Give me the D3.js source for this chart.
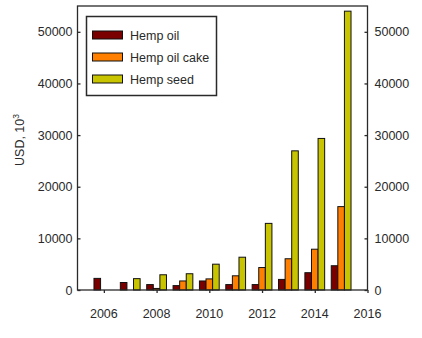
<!DOCTYPE html>
<html><head><meta charset="utf-8">
<script src="https://cdn.jsdelivr.net/npm/d3@7"></script>
<style>body{margin:0;background:#fff}svg{display:block}text{font-family:"Liberation Sans",Arial,sans-serif}</style>
</head><body><svg id="c" width="422" height="338"></svg>
<script>
const years = [2006,2007,2008,2009,2010,2011,2012,2013,2014,2015];
const hempOil = [2250,1450,1050,850,1750,1050,1050,2050,3350,4700];
const hempOilCake = [0,0,300,1750,2150,2750,4350,6050,7900,16150];
const hempSeed = [0,2200,2950,3150,5000,6350,12900,26950,29350,54000];
const seriesNames = ["Hemp oil","Hemp oil cake","Hemp seed"];
const seriesColors = ["#7a0000","#ff8000","#c8c400"];
const xTicks = [2006,2008,2010,2012,2014,2016];
const yTicks = [0,10000,20000,30000,40000,50000];

const svg = d3.select("#c");
const L=77.5, R=367.5, T=6, B=290;
const x = d3.scaleLinear().domain([2005,2016]).range([L,R]);
const y = d3.scaleLinear().domain([0,55000]).range([B,T]);
const bw = (x(2006)-x(2005))*0.25;
const series = [hempOil,hempOilCake,hempSeed];
const ink="#2a2a2a";

series.forEach((s,si)=>{
  svg.append("g").selectAll("rect").data(years.map((yr,i)=>({yr,v:s[i]})).filter(d=>d.v>0))
    .join("rect")
    .attr("x",d=>x(d.yr)+(si-1.5)*bw)
    .attr("y",d=>y(d.v))
    .attr("width",bw)
    .attr("height",d=>B-y(d.v))
    .attr("fill",seriesColors[si])
    .attr("stroke","#111").attr("stroke-width",1);
});

// frame
svg.append("rect").attr("x",L).attr("y",T).attr("width",R-L).attr("height",B-T)
  .attr("fill","none").attr("stroke",ink).attr("stroke-width",1.3);

const fs="12.5px";
const yl = svg.append("g").attr("transform",`translate(${L},0)`).call(d3.axisRight(y).tickValues(yTicks).tickSize(3).tickFormat(""));
const yr = svg.append("g").attr("transform",`translate(${R},0)`).call(d3.axisLeft(y).tickValues(yTicks).tickSize(3).tickFormat(""));
const xa = svg.append("g").attr("transform",`translate(0,${B})`).call(d3.axisBottom(x).tickValues(xTicks).tickSize(3).tickFormat(""));
[yl,yr,xa].forEach(g=>{g.select(".domain").remove();g.selectAll("line").attr("stroke",ink).attr("stroke-width",1.3);});

svg.append("g").selectAll("text").data(yTicks).join("text")
  .attr("x",L-5).attr("y",d=>y(d)+4.5).attr("text-anchor","end")
  .attr("font-size",fs).attr("fill",ink).text(d=>d);
svg.append("g").selectAll("text").data(yTicks).join("text")
  .attr("x",R+7).attr("y",d=>y(d)+4.5).attr("text-anchor","start")
  .attr("font-size",fs).attr("fill",ink).text(d=>d);
svg.append("g").selectAll("text").data(xTicks).join("text")
  .attr("x",d=>x(d)).attr("y",318).attr("text-anchor","middle")
  .attr("font-size",fs).attr("fill",ink).text(d=>d);

const lab = svg.append("text").attr("transform","translate(24,140) rotate(-90)")
  .attr("text-anchor","middle").attr("font-size","12.5px").attr("fill",ink);
lab.append("tspan").text("USD, 10");
lab.append("tspan").attr("dy",-5).attr("font-size","8.5px").text("3");

// legend
const lg = svg.append("g");
lg.append("rect").attr("x",86.5).attr("y",16.5).attr("width",130).attr("height",79)
  .attr("fill","#fff").attr("stroke",ink).attr("stroke-width",1.5);
seriesNames.forEach((n,i)=>{
  const cy = 35 + i*22;
  lg.append("rect").attr("x",92.5).attr("y",cy-4).attr("width",30).attr("height",8)
    .attr("fill",seriesColors[i]).attr("stroke","#111").attr("stroke-width",1);
  lg.append("text").attr("x",130).attr("y",cy+4.5).attr("font-size","12.5px").attr("fill",ink).text(n);
});
</script></body></html>
